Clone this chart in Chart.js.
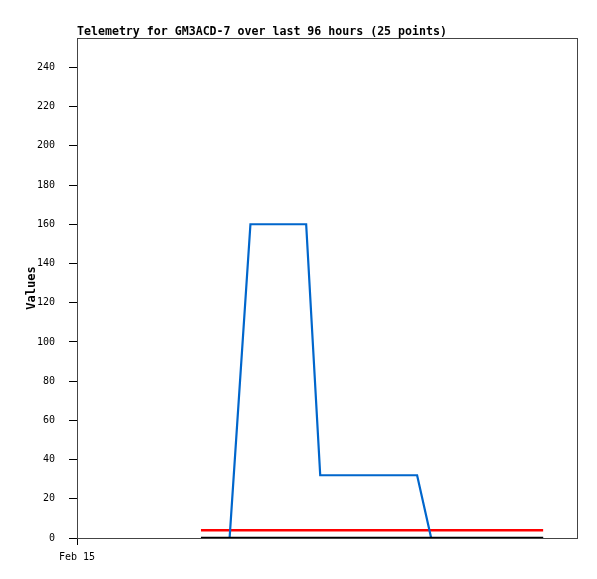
<!DOCTYPE html>
<html>
<head>
<meta charset="utf-8">
<script src="https://cdn.jsdelivr.net/npm/chart.js@4/dist/chart.umd.min.js"></script>
<style>
html,body{margin:0;padding:0;background:#fff;}
#wrap{width:597px;height:579px;position:relative;}
</style>
</head>
<body>
<div id="wrap"><canvas id="c" width="597" height="579"></canvas></div>
<script>
// Hours since Feb 15 00:00 for each of the 25 samples
const hours = [23.8, 26.5, 29.3, 33.3, 36.0, 38.7, 41.4, 44.0, 46.7, 49.4, 52.1, 54.8, 57.5, 60.2, 62.8, 65.3, 68.0, 70.7, 73.4, 76.1, 78.8, 81.5, 84.2, 86.9, 89.5];
const seriesBlue  = [0, 0, 0, 160, 160, 160, 160, 160, 32, 32, 32, 32, 32, 32, 32, 32, 0, 0, 0, 0, 0, 0, 0, 0, 0];
const seriesRed   = [4, 4, 4, 4, 4, 4, 4, 4, 4, 4, 4, 4, 4, 4, 4, 4, 4, 4, 4, 4, 4, 4, 4, 4, 4];
const seriesBlack = [0, 0, 0, 0, 0, 0, 0, 0, 0, 0, 0, 0, 0, 0, 0, 0, 0, 0, 0, 0, 0, 0, 0, 0, 0];
const xTickHours = [0];
const xTickLabels = ['Feb 15'];
const yTicks = [0, 20, 40, 60, 80, 100, 120, 140, 160, 180, 200, 220, 240];
const titleText = 'Telemetry for GM3ACD-7 over last 96 hours (25 points)';
const yTitle = 'Values';

const toPts = arr => arr.map((v, i) => ({x: hours[i], y: v}));

const framePlugin = {
  id: 'frame',
  beforeDatasetsDraw(chart) {
    const {ctx, chartArea: a} = chart;
    ctx.save();
    ctx.strokeStyle = '#444';
    ctx.lineWidth = 1;
    ctx.strokeRect(a.left + 0.5, a.top + 0.5, a.right - a.left, a.bottom - a.top);
    ctx.restore();
  },
  afterDraw(chart) {
    const {ctx, chartArea: a} = chart;
    ctx.save();
    ctx.fillStyle = '#000';
    ctx.font = 'bold 11.6px "DejaVu Sans Mono", monospace';
    ctx.textBaseline = 'alphabetic';
    ctx.textAlign = 'left';
    ctx.fillText(titleText, a.left, 35);
    ctx.translate(32, (a.top + a.bottom) / 2);
    ctx.rotate(-Math.PI / 2);
    ctx.textAlign = 'center';
    ctx.textBaseline = 'middle';
    ctx.font = 'bold 12px "DejaVu Sans Mono", monospace';
    ctx.fillText(yTitle, 0, 0);
    ctx.restore();
  }
};

new Chart(document.getElementById('c'), {
  type: 'line',
  data: {
    datasets: [
      {data: toPts(seriesBlack), borderColor: '#000000', borderWidth: 2.5, pointRadius: 0, fill: false, tension: 0, order: 0},
      {data: toPts(seriesBlue), borderColor: '#0066cc', borderWidth: 2.2, pointRadius: 0, fill: false, tension: 0, order: 1},
      {data: toPts(seriesRed), borderColor: '#ff0000', borderWidth: 2.5, pointRadius: 0, fill: false, tension: 0, order: 2}
    ]
  },
  options: {
    responsive: false,
    animation: false,
    devicePixelRatio: 1,
    layout: {padding: {top: 38, right: 20, left: 0, bottom: 0}},
    plugins: {legend: {display: false}, title: {display: false}, tooltip: {enabled: false}},
    scales: {
      x: {
        type: 'linear', min: 0, max: 96,
        afterBuildTicks: s => { s.ticks = xTickHours.map(v => ({value: v})); },
        afterFit: s => { s.height = 41; },
        ticks: {
          autoSkip: false, maxRotation: 0, padding: 6, color: '#000',
          font: {family: '"DejaVu Sans Mono", monospace', size: 10}
          ,callback: (v) => { const i = xTickHours.indexOf(v); return i >= 0 ? xTickLabels[i] : ''; }
        },
        grid: {drawOnChartArea: false, drawTicks: true, tickLength: 7, color: '#000'},
        border: {display: true, color: '#000', width: 1}
      },
      y: {
        min: 0, max: 255,
        afterBuildTicks: s => { s.ticks = yTicks.map(v => ({value: v})); },
        afterFit: s => { s.width = 77; },
        ticks: {
          padding: 14, color: '#000',
          font: {family: '"DejaVu Sans Mono", monospace', size: 10}
        },
        grid: {drawOnChartArea: false, drawTicks: true, tickLength: 8, color: '#000'},
        border: {display: true, color: '#000', width: 1}
      }
    }
  },
  plugins: [framePlugin]
});
</script>
</body>
</html>
